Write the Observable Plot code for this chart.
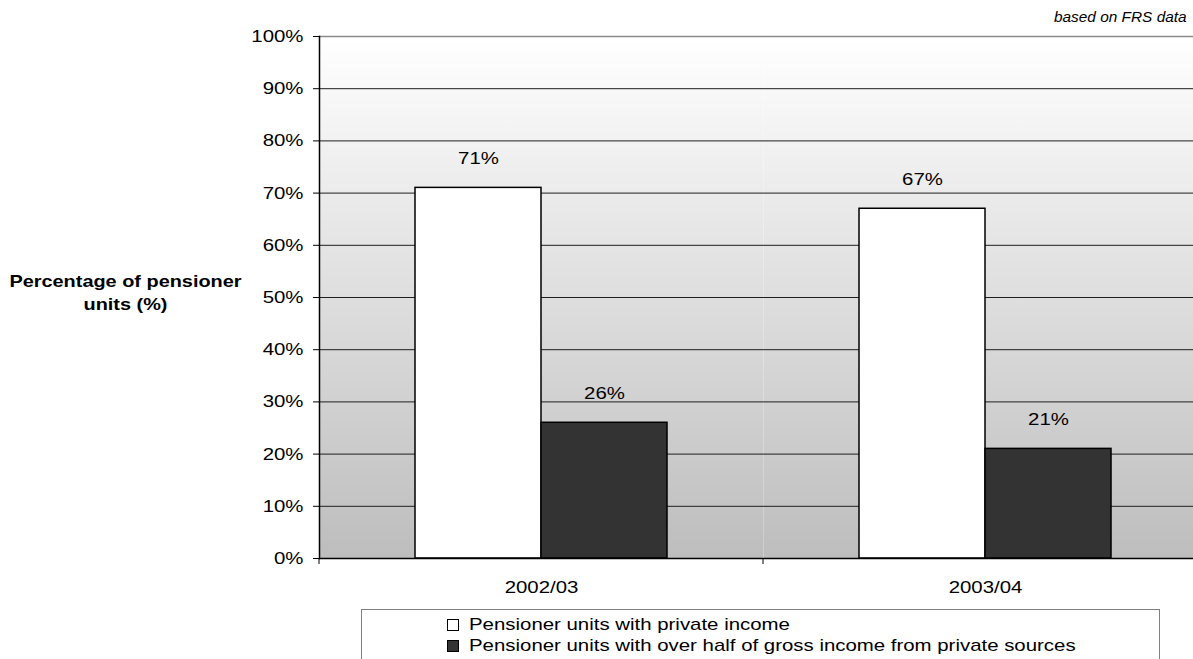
<!DOCTYPE html>
<html>
<head>
<meta charset="utf-8">
<script src="https://cdn.jsdelivr.net/npm/d3@7"></script>
<script src="https://cdn.jsdelivr.net/npm/@observablehq/plot@0.6"></script>
<style>
  html, body { margin: 0; padding: 0; background: #fff; overflow: hidden; width: 1193px; height: 659px; }
  #wrap { position: relative; width: 1193px; height: 659px; font-family: "Liberation Sans", Arial, sans-serif; color: #000; }
  #chart { position: absolute; left: 0; top: 0; }
  #note { position: absolute; right: 6px; top: 9px; font-size: 14px; font-style: italic; transform: scaleX(1.1); transform-origin: right center; white-space: nowrap; }
  #ytitle { position: absolute; left: 0; top: 270px; width: 251px; text-align: center; font-weight: bold; font-size: 17px; line-height: 23px; transform: scaleX(1.17); transform-origin: center; }
  #legend { position: absolute; left: 361px; top: 609px; width: 799px; height: 70px; box-sizing: border-box; border: 1px solid #7f7f7f; background: #fff; padding: 4px 0 0 85px; font-size: 17px; line-height: 21px; }
  .item { display: flex; align-items: center; white-space: nowrap; }
  .swatch { width: 12px; height: 12px; box-sizing: border-box; border: 1px solid #000; margin-right: 10px; flex: none; }
  .label { display: inline-block; transform: scaleX(1.2); transform-origin: left center; }
</style>
</head>
<body>
<div id="wrap">
  <div id="note">based on FRS data</div>
  <div id="ytitle">Percentage of pensioner<br>units (%)</div>
  <div id="chart"></div>
  <div id="legend"></div>
</div>
<script>
// Share of pensioner units by year, two measures of private income
const years = ["2002/03", "2003/04"];
const seriesNames = [
  "Pensioner units with private income",
  "Pensioner units with over half of gross income from private sources"
];
const privateIncome = [71, 67];
const overHalfPrivate = [26, 21];
const yTicks = [0, 10, 20, 30, 40, 50, 60, 70, 80, 90, 100];
const seriesFills = ["#ffffff", "#333333"];

// Chart text is set in a horizontally widened face
const TEXT_STRETCH = 1.2;

const rows = years.flatMap((year, i) => [
  {year, series: seriesNames[0], value: privateIncome[i]},
  {year, series: seriesNames[1], value: overHalfPrivate[i]}
]);

const chart = Plot.plot({
  width: 1193,
  height: 600,
  marginTop: 36,
  marginBottom: 42,
  marginLeft: 319,
  marginRight: 0,
  style: {fontFamily: '"Liberation Sans", Arial, sans-serif', fontSize: "17px", color: "#000", background: "transparent"},
  fx: {domain: years, range: [319, 1207], padding: 0, label: null},
  x: {domain: seriesNames, paddingInner: 0, paddingOuter: 0.755, axis: null},
  y: {domain: [0, 100], axis: null},
  color: {domain: seriesNames, range: seriesFills},
  marks: [
    Plot.frame({fill: "url(#plotBg)", stroke: null}),
    Plot.ruleY(yTicks.filter((t) => t > 0 && t < 100), {stroke: "#1e1e1e", strokeWidth: 1}),
    Plot.ruleY([100], {stroke: "#8a8a8a", strokeWidth: 1.5}),
    Plot.barY(rows, {fx: "year", x: "series", y: "value", fill: "series", stroke: "#000", strokeWidth: 1.5}),
    Plot.ruleY([0], {stroke: "#000", strokeWidth: 1.5}),
    Plot.text(rows, {fx: "year", x: "series", y: "value", text: (d) => d.value + "%", dy: -29, fontSize: 17, fill: "#000"}),
    Plot.axisY({ticks: yTicks, tickFormat: (d) => d + "%", tickSize: 6, tickPadding: 10, fontSize: 17, label: null}),
    Plot.axisFx({anchor: "bottom", tickSize: 0, tickPadding: 22, fontSize: 17, label: null}),
    Plot.frame({anchor: "left", facetAnchor: "left", stroke: "#000", strokeWidth: 1.5})
  ]
});

const svg = d3.select(chart);

// Widen every text label around its own anchor point
svg.selectAll("text").each(function () {
  const t = this.getAttribute("transform") || "";
  const xAttr = this.getAttribute("x");
  let shift = "";
  if (xAttr !== null && isFinite(+xAttr)) {
    this.removeAttribute("x");
    shift = ` translate(${+xAttr},0)`;
  }
  this.setAttribute("transform", `${t}${shift} scale(${TEXT_STRETCH},1)`);
});

// Vertical background gradient for the plot area
const grad = svg.insert("defs", ":first-child")
  .append("linearGradient")
  .attr("id", "plotBg")
  .attr("x1", 0).attr("y1", 0).attr("x2", 0).attr("y2", 1);
grad.append("stop").attr("offset", 0).attr("stop-color", "#ffffff");
grad.append("stop").attr("offset", 1).attr("stop-color", "#bdbdbd");

// Category tick marks sit on the band edges, below the baseline
const fx = chart.scale("fx");
const y0 = chart.scale("y").apply(0);
const edges = [...years.map((v) => fx.apply(v)), fx.apply(years[years.length - 1]) + fx.bandwidth];
svg.append("g")
  .selectAll("line")
  .data(edges)
  .join("line")
  .attr("x1", (d) => d).attr("x2", (d) => d)
  .attr("y1", y0).attr("y2", y0 + 6)
  .attr("stroke", "#000")
  .attr("stroke-width", 1);

document.getElementById("chart").appendChild(chart);

// Legend
const legend = d3.select("#legend");
const items = legend.selectAll(".item").data(seriesNames).join("div").attr("class", "item");
items.append("span").attr("class", "swatch").style("background", (d, i) => seriesFills[i]);
items.append("span").attr("class", "label").text((d) => d);
</script>
</body>
</html>
